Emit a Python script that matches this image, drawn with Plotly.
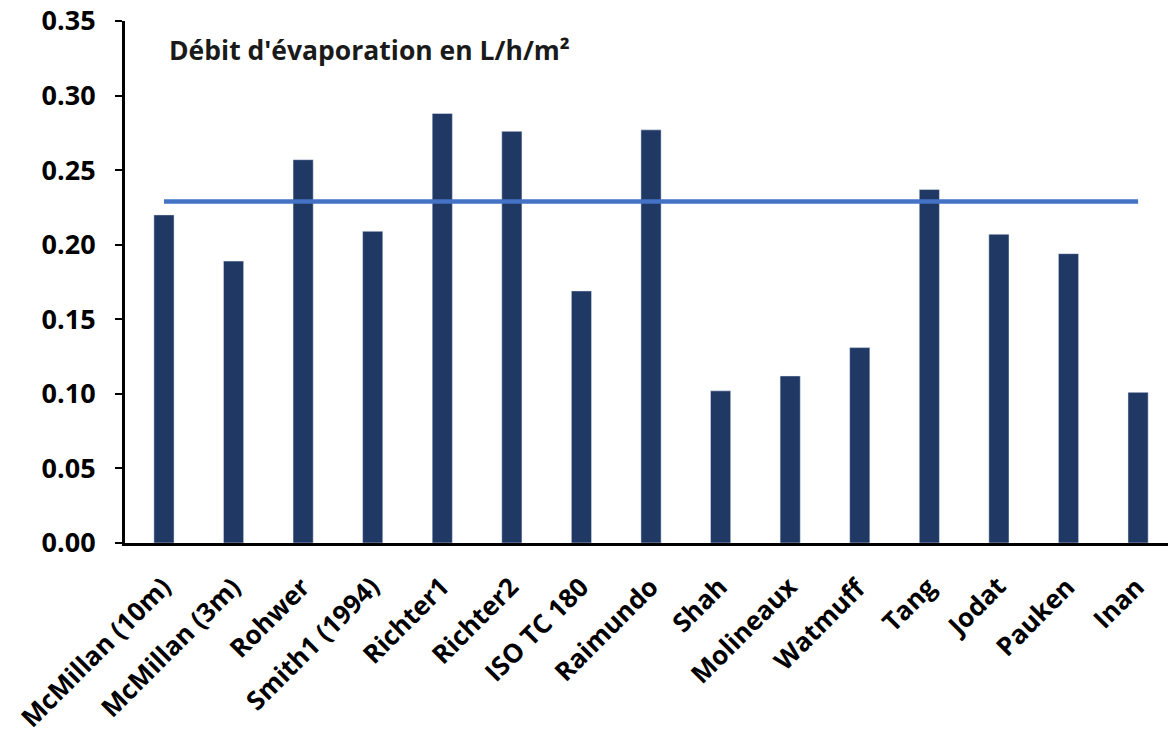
import plotly.graph_objects as go

CATEGORIES = [
    "McMillan (10m)", "McMillan (3m)", "Rohwer", "Smith1 (1994)", "Richter1",
    "Richter2", "ISO TC 180", "Raimundo", "Shah", "Molineaux", "Watmuff",
    "Tang", "Jodat", "Pauken", "Inan",
]
DEBIT = [0.220, 0.189, 0.257, 0.209, 0.288, 0.276, 0.169, 0.277,
         0.102, 0.112, 0.131, 0.237, 0.207, 0.194, 0.101]
MOYENNE = 0.229
Y_TICKS = [0.0, 0.05, 0.10, 0.15, 0.20, 0.25, 0.30, 0.35]

NAVY = "#203864"
LINE_BLUE = "#4472C4"
FONT = "Open Sans, Noto Sans, sans-serif"

fig = go.Figure([
    go.Bar(x=CATEGORIES, y=DEBIT, marker_color=NAVY, width=0.29,
           showlegend=False),
    go.Scatter(x=CATEGORIES, y=[MOYENNE] * len(CATEGORIES), mode="lines",
               line=dict(color=LINE_BLUE, width=4.5), showlegend=False),
])

# rotated category labels as annotations: Excel hangs the top-right corner
# of the rotated text under the tick, plotly tick labels don't
labels = [dict(
    text=cat, x=cat, xref="x", y=0, yref="paper",
    xanchor="right", yanchor="top", textangle=-45,
    xshift=17, yshift=-23, showarrow=False,
    font=dict(size=26, family=FONT, color="black", weight="bold"),
) for cat in CATEGORIES]

fig.update_layout(
    width=1168, height=733,
    plot_bgcolor="white", paper_bgcolor="white",
    margin=dict(l=125, r=0, t=21, b=190),
    font=dict(family=FONT, color="black", size=19),
    annotations=[dict(
        text="Débit d'évaporation en L/h/m²",
        xref="paper", yref="paper", x=0.04, y=0.945,
        xanchor="left", yanchor="middle", showarrow=False,
        font=dict(size=26.5, family=FONT, color="#1a1a1a", weight="bold"),
    )] + labels,
)
# fixed range (the label annotations would widen the autorange);
# the original chart is cropped a few px past its last category
fig.update_xaxes(
    range=[-0.56, len(CATEGORIES) - 0.57],
    showline=True, linecolor="black", linewidth=3,
    ticks="", showgrid=False, automargin=False, showticklabels=False,
)
fig.update_yaxes(
    range=[0, 0.35], tickvals=Y_TICKS, tickformat=".2f",
    showline=True, linecolor="black", linewidth=3,
    ticks="outside", ticklen=7, tickwidth=2, tickcolor="black",
    ticklabelstandoff=14, ticklabeloverflow="allow",
    showgrid=False, zeroline=False, automargin=False,
    tickfont=dict(size=27, family=FONT, weight="bold"),
)

# drop the default 8px body margin so the figure fills the window
fig.write_html("out.html", config={"displayModeBar": False},
               post_script="document.body.style.margin='0';")
